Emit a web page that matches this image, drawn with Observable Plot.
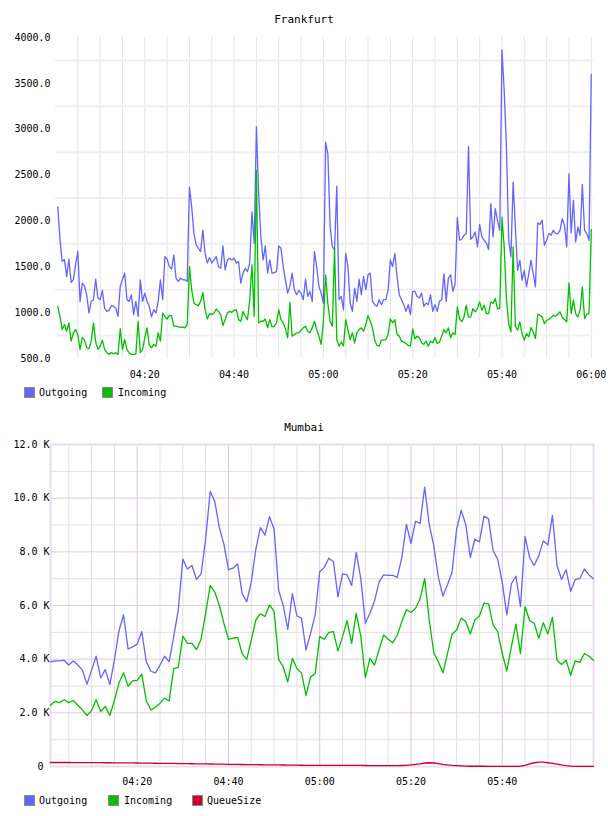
<!DOCTYPE html>
<html>
<head>
<meta charset="utf-8">
<script src="https://cdn.jsdelivr.net/npm/d3@7"></script>
<script src="https://cdn.jsdelivr.net/npm/@observablehq/plot@0.6"></script>
<style>
  body { margin: 0; background: #fff; }
  #wrap { position: relative; width: 608px; height: 816px; font-family: "DejaVu Sans Mono", monospace; color: #000; }
  .title { position: absolute; left: 0; width: 608px; text-align: center; font-size: 11px; line-height: 12px; }
  .chart { position: absolute; left: 0; }
  .item { position: absolute; font-size: 10px; line-height: 11px; white-space: nowrap; }
  .sw { position: absolute; width: 9px; height: 9px; border: 1px solid #8a8a8a; }
</style>
</head>
<body>
<div id="wrap"></div>
<script>
// ---------------- Frankfurt (30 s samples from 04:00:30 to 06:00:00) ----------------
const fraStart = "04:00:30";
const fraStepSec = 30;
const fraOutgoing = [
  2153,1800,1557,1580,1394,1582,1330,1358,1520,1665,
  1123,1322,1290,1190,996,1123,1141,1365,1159,1141,
  1242,1050,1014,1025,1076,1069,1051,960,1286,1365,
  1430,1141,1123,1195,978,1123,960,1358,1123,1213,
  1123,1069,953,1032,996,1123,1358,1141,1611,1582,
  1502,1474,1629,1376,1340,1376,1358,1358,1340,2370,
  2153,1864,1745,1702,1665,1900,1647,1540,1600,1540,
  1575,1611,1502,1484,1727,1466,1575,1593,1575,1593,
  1540,1557,1322,1430,1484,1448,1540,2099,1756,3028,
  2300,1828,1575,1727,1430,1575,1430,1437,1448,1727,
  1702,1500,1358,1213,1286,1430,1250,1195,1242,1213,
  1141,1365,1177,1231,1123,1665,1502,1286,1213,1105,
  2858,2732,1950,1720,1683,2378,1141,1177,1032,1647,
  1502,1105,1014,1268,1123,1365,1195,1394,1250,1412,
  1430,1123,1087,1069,1141,1087,1141,1141,1250,1575,
  1502,1647,1394,1195,1141,1087,1014,1087,978,1231,
  1231,1177,1159,1213,1069,1105,1087,1195,1014,1087,
  1014,1123,1141,1423,1123,1376,1412,1231,1315,
  2036,1789,1800,1843,1862,2813,1800,1826,1880,1717,
  1963,1826,1789,1760,1688,2189,1826,2134,2007,1898,
  3866,3423,2800,1800,1608,2424,1934,1462,1571,1353,
  1462,1281,1426,1571,1426,1281,1978,1963,2007,1735,
  1789,1862,1843,1898,1862,1862,1898,2025,1952,1717,
  2515,1869,2225,1771,1934,1843,2399,1898,1862,1789,
  3597
];
const fraIncoming = [
  1069,960,816,870,798,888,689,780,815,760,
  599,726,700,617,606,690,888,679,599,635,
  700,599,563,545,565,550,563,545,823,599,
  707,600,560,545,545,550,906,563,599,726,
  834,650,617,653,635,780,689,996,960,931,
  967,967,852,852,845,840,845,834,870,1502,
  1250,1105,1087,1076,1123,1220,1032,931,989,978,
  996,1040,1014,978,859,924,996,1014,1003,1025,
  1032,924,906,1014,960,924,1141,1520,960,2551,
  888,906,906,931,834,924,845,852,888,1032,
  924,888,823,726,1112,744,762,780,780,809,
  834,852,798,780,834,906,816,744,653,900,
  1412,1100,906,852,1702,707,635,680,635,924,
  816,707,780,671,780,816,834,798,870,967,
  906,834,700,642,635,700,700,707,762,931,
  888,924,762,744,689,679,664,642,635,823,
  715,744,726,671,653,689,635,689,671,726,
  664,679,744,816,780,834,726,780,762,
  1063,936,900,954,1081,950,954,1045,1009,1045,
  1117,1027,1081,990,990,1117,1099,1154,1045,1045,
  2040,1717,1150,881,790,1717,852,809,899,772,
  700,772,736,838,790,718,983,972,954,881,
  917,925,946,972,961,983,1009,946,925,899,
  1324,990,1136,990,954,1027,1281,936,983,990,
  1906
];
const fraYTicks = [500,1000,1500,2000,2500,3000,3500,4000];
const fraXTicks = ["04:20","04:40","05:00","05:20","05:40","06:00"];

// ---------------- Mumbai (1 min samples from 04:01 to 06:00) ----------------
const mumStart = "04:01:00";
const mumStepSec = 60;
const mumOutgoing = [
  3900,3940,3940,3960,3780,3930,3780,3590,3060,3590,
  4110,3300,3610,3050,3960,5050,5650,4380,4460,4560,
  5030,3900,3550,3490,3780,4110,3900,4840,5840,7730,
  7360,7490,6970,7180,8470,10250,9880,8900,8290,7340,
  7390,7550,6440,6140,6870,8100,8900,8620,9310,8840,
  6560,6000,5110,6440,5610,5530,4340,4960,5650,7260,
  7420,7760,7630,6320,7180,7140,6750,7980,7000,5340,
  5710,6160,6870,7140,7120,7120,7050,7790,9020,8320,
  9140,9060,10410,9020,8220,7050,6350,6770,7240,8840,
  9550,9020,7790,8470,8370,9330,9230,8040,7730,6870,
  5650,6810,7090,5960,8570,7790,7490,7850,8410,8250,
  9360,7490,6970,7330,6530,6970,7000,7360,7140,7000
];
const mumIncoming = [
  2280,2430,2380,2490,2380,2460,2280,2110,1900,2090,
  2490,2050,2240,1900,2460,3110,3490,2990,3190,3210,
  3440,2440,2110,2210,2360,2550,2440,3650,3690,4860,
  4590,4590,4360,4740,5710,6750,6500,6000,5340,4740,
  4780,4810,4210,3990,4710,5460,5690,5590,6020,5780,
  3990,3710,3150,4030,3650,3490,2650,3340,3460,4840,
  4740,5000,5030,4310,4840,5440,4590,5710,4860,3310,
  4030,3780,4340,4900,4740,4610,4900,5400,5840,5740,
  5900,6250,7000,5460,4240,3900,3490,4210,4930,5090,
  5530,5400,4940,5460,5610,6090,6060,5280,5030,4210,
  3560,4460,5310,4210,5960,5440,5340,4780,5360,4940,
  5560,3960,3800,3960,3400,3940,3880,4210,4110,3960
];
const mumQueueSize = [
  150,150,150,150,150,148,147,146,145,144,
  143,142,140,139,138,137,135,134,132,130,
  128,126,124,122,120,118,116,113,110,108,
  106,103,100,98,95,93,90,88,85,82,
  80,78,75,73,70,68,66,64,62,60,
  58,55,52,50,48,46,44,42,40,40,
  40,40,40,42,45,45,45,42,40,38,
  35,32,30,30,30,32,35,38,40,60,
  80,100,130,140,130,110,80,60,45,35,
  25,15,10,10,10,10,8,8,8,8,
  8,8,8,10,40,100,140,160,160,140,
  115,90,60,35,15,5,5,5,5,5
];
const mumYTicks = [0,2000,4000,6000,8000,10000,12000];
const mumXTicks = ["04:20","04:40","05:00","05:20","05:40"];

// ---------------- helpers ----------------
const hm = s => { const p = s.split(":").map(Number); return new Date(Date.UTC(2000,0,1,p[0],p[1],p[2]||0)); };
const fmt = d3.utcFormat("%H:%M");
const times = (start, step, n) => d3.range(n).map(i => new Date(+hm(start) + i*step*1000));

const C_OUT = "#6464ff", C_IN = "#00c000", C_Q = "#cc0033";
const font = {fontFamily: "DejaVu Sans Mono, monospace", fontSize: "10px", color: "#000", background: "transparent", overflow: "visible"};

const wrap = document.getElementById("wrap");
function add(el, css) { Object.assign(el.style, css); wrap.appendChild(el); return el; }
function title(text, top) { const d = document.createElement("div"); d.className = "title"; d.textContent = text; add(d, {top: top + "px"}); }
function legendItem(label, color, swX, txtX, top) {
  const s = document.createElement("div"); s.className = "sw"; add(s, {left: swX + "px", top: top + "px", background: color});
  const t = document.createElement("div"); t.className = "item"; t.textContent = label; add(t, {left: txtX + "px", top: (top - 0.5) + "px"});
}

// ---------------- Frankfurt chart ----------------
title("Frankfurt", 14);
{
  const tt = times(fraStart, fraStepSec, fraOutgoing.length);
  const dom = [hm("04:00:00"), hm("06:00:30")];
  const vgrid = d3.utcMinute.every(5).range(hm("04:05:00"), hm("06:00:01"));
  const hgrid = d3.range(750, 4000, 500);
  const chart = Plot.plot({
    width: 608, height: 380, marginTop: 37, marginBottom: 22, marginLeft: 55, marginRight: 15,
    style: font,
    x: {type: "utc", domain: dom},
    y: {domain: [500, 4000]},
    marks: [
      Plot.ruleX(vgrid, {stroke: "#e4e4e4", strokeWidth: 1}),
      Plot.ruleY(hgrid, {stroke: "#efefef", strokeWidth: 2}),
      Plot.axisY({ticks: fraYTicks, tickFormat: d => d.toFixed(1), tickSize: 0, tickPadding: 5}),
      Plot.axisX({ticks: fraXTicks.map(hm), tickFormat: fmt, tickSize: 0, tickPadding: 12}),
      Plot.line(fraOutgoing, {x: (d, i) => tt[i], y: d => d, stroke: C_OUT, strokeWidth: 1.3}),
      Plot.line(fraIncoming, {x: (d, i) => tt[i], y: d => d, stroke: C_IN, strokeWidth: 1.3})
    ]
  });
  chart.classList.add("chart");
  add(chart, {top: "0px"});
}
legendItem("Outgoing", C_OUT, 24, 39, 387);
legendItem("Incoming", C_IN, 102, 118, 387);

// ---------------- Mumbai chart ----------------
title("Mumbai", 422);
{
  const tt = times(mumStart, mumStepSec, mumOutgoing.length);
  const dom = [hm("04:01:00"), hm("06:00:00")];
  const vAll = d3.utcMinute.every(5).range(hm("04:05:00"), hm("05:59:00"));
  const vMajor = vAll.filter(d => d.getUTCMinutes() % 20 === 0);
  const vMinor = vAll.filter(d => d.getUTCMinutes() % 20 !== 0);
  const hMinor = d3.range(1000, 12000, 2000);
  const hMajor = d3.range(2000, 12000, 2000);
  const kfmt = d => d === 0 ? "0\u00a0" : (d / 1000).toFixed(1) + " K";
  const chart = Plot.plot({
    width: 608, height: 382, marginTop: 34, marginBottom: 26, marginLeft: 50, marginRight: 15,
    style: font,
    x: {type: "utc", domain: dom},
    y: {domain: [0, 12000]},
    marks: [
      Plot.ruleX(vMinor, {stroke: "#e2e0e2", strokeWidth: 1}),
      Plot.ruleY(hMinor, {stroke: "#e2e0e2", strokeWidth: 1}),
      Plot.ruleX(vMajor, {stroke: "#dcc6dc", strokeWidth: 1}),
      Plot.ruleY(hMajor, {stroke: "#e2cbe2", strokeWidth: 1}),
      Plot.frame({stroke: "#ecdcec", strokeWidth: 2}),
      Plot.axisY({ticks: mumYTicks, tickFormat: kfmt, tickSize: 0, tickPadding: 1}),
      Plot.axisX({ticks: mumXTicks.map(hm), tickFormat: fmt, tickSize: 0, tickPadding: 11}),
      Plot.line(mumOutgoing, {x: (d, i) => tt[i], y: d => d, stroke: C_OUT, strokeWidth: 1.3}),
      Plot.line(mumIncoming, {x: (d, i) => tt[i], y: d => d, stroke: C_IN, strokeWidth: 1.3}),
      Plot.line(mumQueueSize, {x: (d, i) => tt[i], y: d => d, stroke: C_Q, strokeWidth: 1.3})
    ]
  });
  chart.classList.add("chart");
  add(chart, {top: "410px"});
}
legendItem("Outgoing", C_OUT, 24, 39, 795);
legendItem("Incoming", C_IN, 108, 124, 795);
legendItem("QueueSize", C_Q, 192, 207, 795);
</script>
</body>
</html>
